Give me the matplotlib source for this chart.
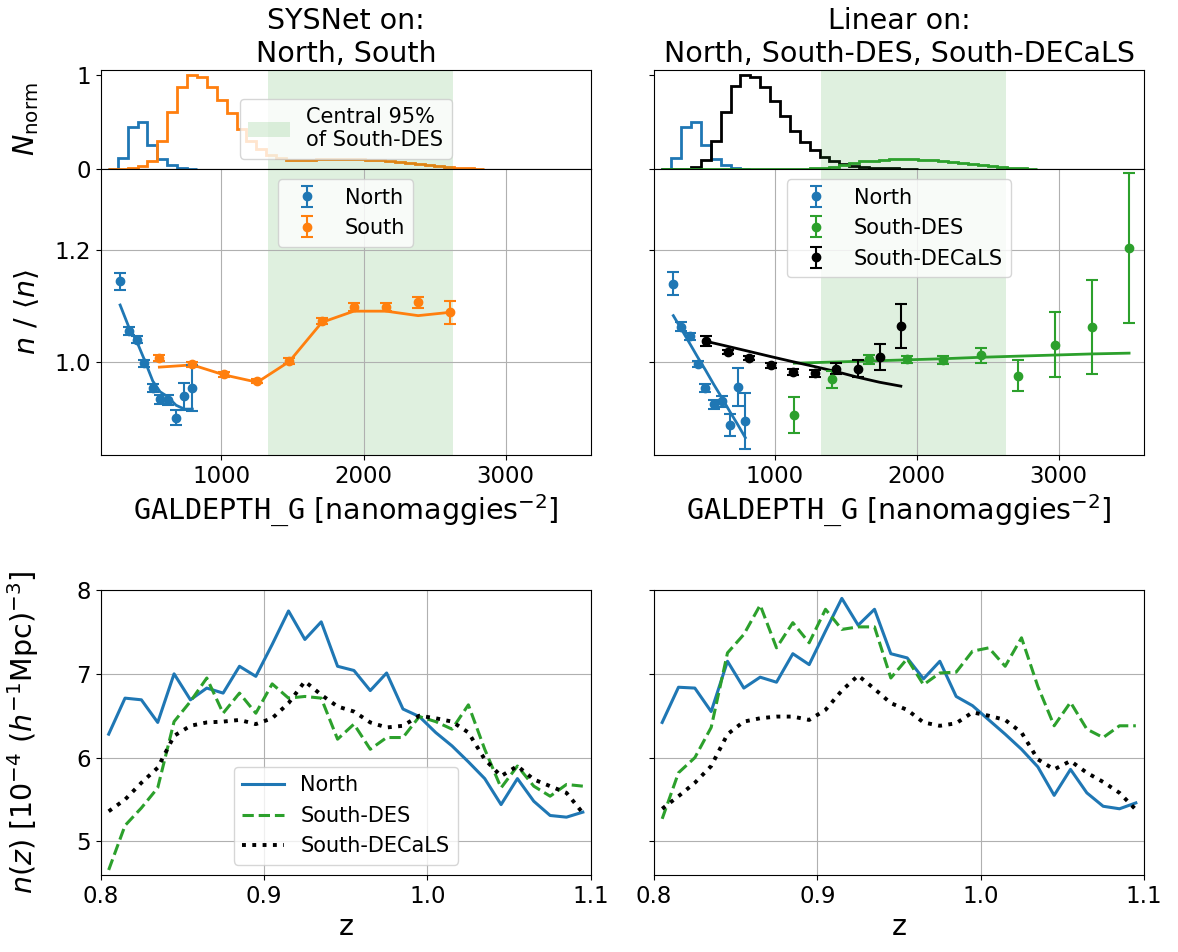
import numpy as np
import matplotlib.pyplot as plt

# depth histograms (shared bins)
bin_start = 202
bin_width = 69.6
hist_north = [0.005, 0.12, 0.45, 0.5, 0.25, 0.105, 0.04, 0.01, 0.003]
hist_south = [0, 0.003, 0.01, 0.03, 0.08, 0.3, 0.6, 0.87, 1.0, 0.98, 0.87, 0.73,
              0.59, 0.42, 0.3, 0.21, 0.145, 0.12, 0.1, 0.095, 0.1, 0.105, 0.11,
              0.11, 0.11, 0.105, 0.1, 0.095, 0.085, 0.075, 0.065, 0.05, 0.04,
              0.03, 0.02, 0.012, 0.007, 0.004]
hist_decals = [0, 0.002, 0.005, 0.02, 0.095, 0.3, 0.6, 0.88, 1.0, 0.98, 0.87,
               0.72, 0.56, 0.4, 0.29, 0.2, 0.13, 0.09, 0.05, 0.035, 0.025,
               0.015, 0.01, 0.006, 0.004, 0.002]
hist_des = [0, 0, 0, 0, 0, 0, 0, 0, 0, 0, 0, 0, 0, 0, 0.003, 0.01, 0.015, 0.025,
            0.04, 0.06, 0.08, 0.09, 0.1, 0.105, 0.108, 0.105, 0.1, 0.095, 0.085,
            0.075, 0.065, 0.05, 0.04, 0.03, 0.02, 0.012, 0.007, 0.003]
des_span = (1328, 2626)

# SYSNet: n/<n> vs depth
sn_north_x = [288, 347, 405, 459, 518, 569, 623, 681, 740, 796]
sn_north_y = [1.143, 1.055, 1.039, 0.997, 0.953, 0.933, 0.931, 0.900, 0.938, 0.953]
sn_north_e = [0.016, 0.007, 0.006, 0.006, 0.007, 0.008, 0.009, 0.013, 0.024, 0.041]
sn_north_m = [1.101, 1.063, 1.036, 1.003, 0.965, 0.946, 0.937, 0.922, 0.915, 0.915]
sn_south_x = [564, 796, 1021, 1253, 1478, 1707, 1932, 2159, 2384, 2611]
sn_south_y = [1.006, 0.995, 0.977, 0.965, 1.001, 1.072, 1.097, 1.098, 1.106, 1.088]
sn_south_e = [0.005, 0.004, 0.004, 0.004, 0.005, 0.005, 0.007, 0.007, 0.010, 0.021]
sn_south_m = [0.990, 0.994, 0.976, 0.963, 1.000, 1.070, 1.090, 1.090, 1.082, 1.088]

# Linear: n/<n> vs depth
ln_north_x = [286, 340, 400, 457, 512, 571, 626, 683, 738, 793]
ln_north_y = [1.139, 1.062, 1.045, 0.996, 0.952, 0.924, 0.929, 0.887, 0.955, 0.894]
ln_north_e = [0.021, 0.008, 0.006, 0.005, 0.007, 0.008, 0.010, 0.020, 0.034, 0.050]
ln_north_m = [1.082, 1.059, 1.033, 1.008, 0.985, 0.959, 0.936, 0.911, 0.888, 0.864]
ln_des_x = [1138, 1400, 1667, 1929, 2186, 2452, 2710, 2971, 3233, 3495]
ln_des_y = [0.904, 0.968, 1.004, 1.004, 1.003, 1.011, 0.975, 1.030, 1.061, 1.203]
ln_des_e = [0.032, 0.015, 0.008, 0.006, 0.007, 0.014, 0.028, 0.058, 0.084, 0.134]
ln_des_m = [0.997, 0.999, 1.001, 1.003, 1.005, 1.0076, 1.0096, 1.0116, 1.0136, 1.015]
ln_decals_x = [519, 671, 821, 976, 1131, 1281, 1433, 1583, 1738, 1888]
ln_decals_y = [1.036, 1.017, 1.006, 0.993, 0.981, 0.979, 0.987, 0.987, 1.008, 1.064]
ln_decals_e = [0.009, 0.004, 0.004, 0.004, 0.005, 0.006, 0.010, 0.015, 0.023, 0.039]
ln_decals_m = [1.036, 1.027, 1.018, 1.0086, 0.9995, 0.991, 0.982, 0.972, 0.963, 0.956]

# n(z)
z = [0.805, 0.815, 0.825, 0.835, 0.845, 0.855, 0.865, 0.875, 0.885, 0.895,
     0.905, 0.915, 0.925, 0.935, 0.945, 0.955, 0.965, 0.975, 0.985, 0.995,
     1.005, 1.015, 1.025, 1.035, 1.045, 1.055, 1.065, 1.075, 1.085, 1.095]
nz_sn_north = [6.28, 6.71, 6.69, 6.42, 7.00, 6.69, 6.83, 6.77, 7.09, 6.97,
               7.35, 7.75, 7.41, 7.62, 7.09, 7.04, 6.80, 7.01, 6.58, 6.49,
               6.30, 6.14, 5.95, 5.75, 5.44, 5.75, 5.48, 5.31, 5.29, 5.35]
nz_sn_des = [4.66, 5.19, 5.40, 5.64, 6.43, 6.67, 6.95, 6.53, 6.77, 6.53,
             6.88, 6.71, 6.73, 6.71, 6.22, 6.40, 6.10, 6.24, 6.24, 6.49,
             6.43, 6.34, 6.63, 6.10, 5.64, 5.90, 5.66, 5.54, 5.68, 5.66]
nz_sn_decals = [5.36, 5.50, 5.70, 5.88, 6.26, 6.38, 6.42, 6.43, 6.45, 6.40,
                6.47, 6.65, 6.91, 6.75, 6.61, 6.55, 6.42, 6.36, 6.38, 6.50,
                6.47, 6.43, 6.30, 5.98, 5.78, 5.90, 5.74, 5.66, 5.58, 5.34]
nz_ln_north = [6.42, 6.84, 6.83, 6.55, 7.15, 6.83, 6.96, 6.90, 7.24, 7.11,
               7.51, 7.90, 7.58, 7.77, 7.24, 7.19, 6.94, 7.15, 6.73, 6.62,
               6.45, 6.28, 6.10, 5.89, 5.55, 5.86, 5.58, 5.42, 5.39, 5.46]
nz_ln_des = [5.27, 5.82, 6.00, 6.36, 7.25, 7.47, 7.82, 7.31, 7.61, 7.37,
             7.77, 7.53, 7.56, 7.56, 6.95, 7.18, 6.87, 7.01, 7.02, 7.27,
             7.31, 7.09, 7.43, 6.85, 6.38, 6.66, 6.34, 6.24, 6.38, 6.38]
nz_ln_decals = [5.39, 5.54, 5.70, 5.90, 6.28, 6.43, 6.47, 6.49, 6.49, 6.45,
                6.57, 6.80, 6.98, 6.82, 6.65, 6.57, 6.42, 6.38, 6.41, 6.54,
                6.50, 6.45, 6.30, 5.98, 5.86, 5.96, 5.82, 5.71, 5.58, 5.38]

TICK = 16.5
LABEL = 20.5
LEG = 15

plt.rcParams['font.size'] = TICK
plt.rcParams['xtick.labelsize'] = TICK
plt.rcParams['ytick.labelsize'] = TICK

fig = plt.figure(figsize=(11.78, 9.52), dpi=100)
W, H = 1178, 952


def box(x0, x1, y0, y1):
    return [x0 / W, 1 - y1 / H, (x1 - x0) / W, (y1 - y0) / H]


cols = [(100.5, 591), (654, 1144)]
ax_h = [fig.add_axes(box(c[0], c[1], 70, 169)) for c in cols]
ax_m = [fig.add_axes(box(c[0], c[1], 169, 455)) for c in cols]
ax_z = [fig.add_axes(box(c[0], c[1], 590, 875)) for c in cols]


def edges(vals):
    return bin_start + bin_width * np.arange(len(vals) + 1)


hist_sets = [[(hist_north, 'tab:blue'), (hist_south, 'tab:orange')],
             [(hist_north, 'tab:blue'), (hist_decals, 'k'), (hist_des, 'tab:green')]]
for ax, sets in zip(ax_h, hist_sets):
    for vals, c in sets:
        ax.stairs(vals, edges(vals), color=c, lw=2)
    ax.axvspan(*des_span, color='tab:green', alpha=0.15, lw=0,
               label='Central 95%\nof South-DES')
    ax.set_ylim(0, 1.05)
    ax.set_yticks([0, 1])
    ax.tick_params(labelbottom=False)
ax_h[0].legend(loc='lower center', fontsize=LEG)
ax_h[0].set_ylabel(r'$N_{\rm norm}$', fontsize=LABEL)
ax_h[1].tick_params(labelleft=False)
ax_h[0].set_title('SYSNet on:\nNorth, South', fontsize=LABEL)
ax_h[1].set_title('Linear on:\nNorth, South-DES, South-DECaLS', fontsize=LABEL)

eb = dict(fmt='o', ms=6, capsize=4, elinewidth=1.5, capthick=1.5)
ax = ax_m[0]
ax.plot(sn_north_x, sn_north_m, color='tab:blue', lw=2)
ax.plot(sn_south_x, sn_south_m, color='tab:orange', lw=2)
ax.errorbar(sn_north_x, sn_north_y, yerr=sn_north_e, color='tab:blue', label='North', **eb)
ax.errorbar(sn_south_x, sn_south_y, yerr=sn_south_e, color='tab:orange', label='South', **eb)

ax = ax_m[1]
ax.plot(ln_north_x, ln_north_m, color='tab:blue', lw=2)
ax.plot(ln_des_x, ln_des_m, color='tab:green', lw=2)
ax.plot(ln_decals_x, ln_decals_m, color='k', lw=2)
ax.errorbar(ln_north_x, ln_north_y, yerr=ln_north_e, color='tab:blue', label='North', **eb)
ax.errorbar(ln_des_x, ln_des_y, yerr=ln_des_e, color='tab:green', label='South-DES', **eb)
ax.errorbar(ln_decals_x, ln_decals_y, yerr=ln_decals_e, color='k', label='South-DECaLS', **eb)

for ax in ax_m:
    ax.axvspan(*des_span, color='tab:green', alpha=0.15, lw=0)
    ax.set_ylim(0.833, 1.344)
    ax.set_yticks([1.0, 1.2])
    ax.grid(True)
    ax.legend(loc='upper center', fontsize=LEG)
    ax.set_xlabel(r'$\mathtt{GALDEPTH\_G}$ $[\mathrm{nanomaggies}^{-2}]$', fontsize=LABEL)
ax_m[0].set_ylabel(r'$n\ /\ \langle n \rangle$', fontsize=LABEL)
ax_m[1].tick_params(labelleft=False)

for ax in ax_h + ax_m:
    ax.set_xlim(150, 3600)
    ax.set_xticks([1000, 2000, 3000])

nz_sets = [(nz_sn_north, nz_sn_des, nz_sn_decals), (nz_ln_north, nz_ln_des, nz_ln_decals)]
for ax, (n, d, c) in zip(ax_z, nz_sets):
    ax.plot(z, n, color='tab:blue', lw=2.2, label='North')
    ax.plot(z, d, color='tab:green', lw=2.2, ls='--', label='South-DES')
    ax.plot(z, c, color='k', lw=2.8, ls=':', label='South-DECaLS')
    ax.set_xlim(0.8, 1.1)
    ax.set_ylim(4.6, 8.0)
    ax.set_xticks([0.8, 0.9, 1.0, 1.1])
    ax.set_yticks([5, 6, 7, 8])
    ax.grid(True)
    ax.set_xlabel('z', fontsize=LABEL)
ax_z[0].legend(loc='lower center', fontsize=LEG)
ax_z[0].set_ylabel(r'$n(z)$ [$10^{-4}$ $(h^{-1}\mathrm{Mpc})^{-3}$]', fontsize=LABEL)
ax_z[1].tick_params(labelleft=False)

for ax in (ax_h[0], ax_m[0], ax_z[0]):
    ax.yaxis.set_label_coords(-0.122, 0.5)

fig.savefig('out.png', dpi=100)
